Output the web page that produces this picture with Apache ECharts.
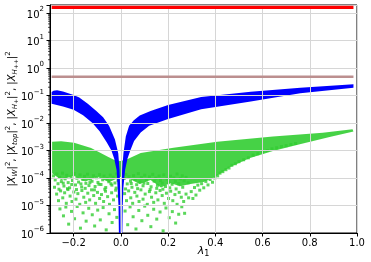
<!DOCTYPE html>
<html><head><meta charset="utf-8">
<script src="https://cdn.jsdelivr.net/npm/echarts@6/dist/echarts.min.js"></script>
<style>html,body{margin:0;padding:0;background:#fff}#c{width:371px;height:262px}</style>
</head><body><div id="c"></div>
<script>
// ---- axis ticks ----
const xTickVals = [-0.2, 0.0, 0.2, 0.4, 0.6, 0.8, 1.0];
const yMinorTicks = [];
[1e-6,1e-5,1e-4,1e-3,1e-2,1e-1,1,10,100].forEach(d=>{[2,3,4,5,6,7,8,9].forEach(m=>{if(m*d<195) yMinorTicks.push(+(m*d).toPrecision(3));});});

// ---- red band |X_W|^2 ----
const redX = [-0.293, 0.985];
const redY = [160, 160];
// ---- rosy-brown band |X_top|^2 ----
const brownX = [-0.293, 0.985];
const brownY = [0.48, 0.48];

// ---- blue band |X_H+|^2 : edges of the dense point band ----
const blueLeftTop = [[-0.293,0.135],[-0.285,0.148],[-0.27,0.155],[-0.245,0.14],[-0.2,0.105],[-0.176,0.085],[-0.14,0.05],[-0.105,0.028],[-0.075,0.016],[-0.05,0.0079],[-0.025,0.0025],[-0.011,7.9e-4],[-0.0055,1.95e-4],[-0.003,4.8e-5],[-0.0015,6.3e-6],[-0.001,6.3e-7]];
const blueLeftBottom = [[-0.293,0.05],[-0.245,0.04],[-0.2,0.03],[-0.16,0.019],[-0.12,0.01],[-0.09,0.005],[-0.06,0.002],[-0.04,0.001],[-0.028,5e-4],[-0.018,1.95e-4],[-0.014,4.8e-5],[-0.01,1e-5],[-0.008,6.3e-7]];
const blueRightTop = [[0.001,6.3e-7],[0.0015,6.3e-6],[0.003,4.8e-5],[0.0055,1.95e-4],[0.011,7.9e-4],[0.021,0.0032],[0.035,0.0079],[0.055,0.0126],[0.08,0.0186],[0.126,0.0275],[0.2,0.045],[0.34,0.089],[0.55,0.138],[0.76,0.19],[0.985,0.257]];
const blueRightBottom = [[0.006,6.3e-7],[0.008,1e-5],[0.011,4.8e-5],[0.018,1.95e-4],[0.028,5e-4],[0.04,0.001],[0.056,0.0022],[0.084,0.0045],[0.12,0.0079],[0.2,0.014],[0.34,0.0316],[0.55,0.06],[0.76,0.12],[0.985,0.19]];

// ---- green cloud |X_H++|^2 : dense core edges ----
const greenCoreTop = [[-0.291,2.1e-3],[-0.253,2.15e-3],[-0.198,1.92e-3],[-0.126,1.23e-3],[-0.055,5.96e-4],[-0.021,4.27e-4],[0.0,4.17e-4],[0.029,4.9e-4],[0.084,8.1e-4],[0.223,1.26e-3],[0.408,2.1e-3],[0.644,3.2e-3],[0.855,4.4e-3],[0.981,5.9e-3]];
const greenCoreBottom = [[0.985,4.9e-3],[0.884,3.1e-3],[0.758,1.7e-3],[0.644,9.6e-4],[0.547,5.3e-4],[0.463,2.5e-4],[0.4,1.1e-4],[0.35,7.1e-5],[0.295,6e-5],[0.25,5e-5],[0.21,6.6e-5],[0.17,4.5e-5],[0.126,8.5e-5],[0.08,6e-5],[0.04,9e-5],[0.0,1.1e-4],[-0.05,7e-5],[-0.1,1.1e-4],[-0.15,7.5e-5],[-0.2,1.2e-4],[-0.253,8.5e-5],[-0.291,1.5e-4]];
// ---- green cloud : sparse points ----
const greenSparse = [
[-0.285,1.2e-4],[-0.278,8.5e-5],[-0.271,1.4e-4],[-0.266,6.2e-5],[-0.259,1.05e-4],[-0.252,7.4e-5],[-0.247,1.5e-4],[-0.241,5.1e-5],[-0.236,9.3e-5],[-0.229,1.25e-4],[-0.223,6.8e-5],[-0.217,4.4e-5],[-0.211,1.1e-4],[-0.205,8.1e-5],[-0.198,1.45e-4],[-0.192,5.6e-5],[-0.186,9.8e-5],[-0.179,7.1e-5],[-0.173,1.3e-4],[-0.166,4.7e-5],[-0.161,8.8e-5],[-0.154,1.15e-4],[-0.148,6.4e-5],[-0.141,1.38e-4],[-0.135,5.3e-5],[-0.129,9.1e-5],[-0.122,7.6e-5],[-0.116,1.2e-4],[-0.109,4.9e-5],[-0.103,1.02e-4],[-0.097,6.9e-5],[-0.09,1.33e-4],[-0.084,5.8e-5],[-0.077,8.6e-5],[-0.071,1.18e-4],[-0.064,4.5e-5],[-0.058,9.5e-5],[-0.051,7.3e-5],[-0.045,1.28e-4],[-0.038,5.5e-5],[-0.032,1.07e-4],[-0.025,6.6e-5],[-0.018,1.4e-4],[-0.012,8.2e-5],[0.014,9.6e-5],[0.021,1.35e-4],[0.027,6.1e-5],[0.034,1.12e-4],[0.041,7.8e-5],[0.047,4.6e-5],[0.054,1.22e-4],[0.061,8.9e-5],[0.067,5.7e-5],[0.074,1.44e-4],[0.081,7.2e-5],[0.087,1.03e-4],[0.094,5.2e-5],[0.101,1.26e-4],[0.108,8.4e-5],[0.114,6.3e-5],[0.121,1.09e-4],[0.128,4.8e-5],[0.135,1.36e-4],[0.141,7.7e-5],[0.148,9.9e-5],[0.155,5.4e-5],[0.162,1.19e-4],[0.168,8.1e-5],[0.175,6.5e-5],[0.182,1.3e-4],[0.189,4.9e-5],[0.196,9.2e-5],[0.203,7.0e-5],[0.21,1.16e-4],[0.217,5.9e-5],[0.224,1.01e-4],[0.231,7.5e-5],[0.238,1.4e-4],[0.245,6.2e-5],[0.252,9.4e-5],[0.26,1.2e-4],[0.268,7.9e-5],[0.276,1.05e-4],[0.285,6.7e-5],
[-0.281,4.6e-5],[-0.262,3.9e-5],[-0.244,6.5e-5],[-0.226,4.1e-5],[-0.208,5.8e-5],[-0.188,3.8e-5],[-0.169,6.1e-5],[-0.151,4.2e-5],[-0.131,6.8e-5],[-0.112,3.7e-5],[-0.093,5.9e-5],[-0.068,3.9e-5],[-0.042,6.2e-5],[-0.02,4.3e-5],[0.02,4.0e-5],[0.044,6.3e-5],[0.071,4.1e-5],[0.098,6.5e-5],[0.124,3.8e-5],[0.152,4.2e-5],[0.178,3.9e-5],[0.207,4.4e-5],[0.234,4.0e-5],[0.262,4.6e-5],
[0.298,3.2e-5],[0.305,1.8e-5],[0.312,4.5e-5],[0.318,2.4e-5],[0.326,5.5e-5],[0.334,3.6e-5],[0.342,6.2e-5],[0.351,4.4e-5],[0.36,7.5e-5],[0.369,5.6e-5],[0.378,8.8e-5],[0.388,7e-5],[0.398,1.0e-4],[0.41,1.2e-4],[0.42,1.5e-4],[0.432,1.7e-4],[0.445,2.0e-4],[0.458,2.3e-4],[0.47,2.9e-4],[0.485,3.3e-4],[0.5,3.9e-4],[0.52,4.6e-4],[0.54,5.4e-4],[0.56,6.8e-4],[0.58,7.6e-4],[0.6,9.0e-4],[0.62,1.0e-3],[0.64,1.15e-3],[0.66,1.25e-3],[0.68,1.4e-3],[0.7,1.5e-3],[0.72,1.65e-3],[0.74,1.8e-3],
[-0.272,2.6e-5],[-0.264,1.5e-5],[-0.255,3.4e-5],[-0.246,1.9e-5],[-0.238,2.9e-5],[-0.231,1.2e-5],[-0.224,3.8e-5],[-0.215,2.2e-5],[-0.207,1.4e-5],[-0.199,3.1e-5],[-0.19,1.7e-5],[-0.182,2.7e-5],[-0.174,1.1e-5],[-0.165,3.5e-5],[-0.157,2.0e-5],[-0.149,1.3e-5],[-0.14,2.8e-5],[-0.132,1.6e-5],[-0.124,3.7e-5],[-0.115,2.3e-5],[-0.107,1.2e-5],[-0.099,3.0e-5],[-0.09,1.8e-5],[-0.082,2.5e-5],[-0.073,1.4e-5],[-0.065,3.3e-5],[-0.056,2.1e-5],[-0.048,1.1e-5],[-0.039,2.9e-5],[-0.031,1.6e-5],[-0.022,3.6e-5],[-0.014,2.2e-5],[0.016,2.7e-5],[0.024,1.5e-5],[0.033,3.4e-5],[0.042,1.9e-5],[0.05,1.2e-5],[0.059,3.0e-5],[0.068,2.2e-5],[0.077,1.4e-5],[0.085,3.7e-5],[0.094,1.7e-5],[0.103,2.6e-5],[0.112,1.1e-5],[0.121,3.2e-5],[0.13,2.0e-5],[0.139,1.3e-5],[0.148,2.9e-5],[0.157,1.6e-5],[0.166,3.5e-5],[0.175,2.3e-5],[0.184,1.2e-5],[0.193,2.8e-5],[0.202,1.8e-5],[0.211,3.3e-5],[0.22,1.5e-5],[0.229,2.5e-5],[0.238,1.1e-5],[0.247,3.0e-5],[0.256,2.0e-5],[0.266,1.4e-5],[0.276,2.6e-5],[0.287,1.9e-5],
[-0.258,7.5e-6],[-0.243,4.2e-6],[-0.233,8.8e-6],[-0.221,2.1e-6],[-0.209,6.1e-6],[-0.196,3.3e-6],[-0.185,9.2e-6],[-0.171,1.5e-6],[-0.16,5.4e-6],[-0.147,2.7e-6],[-0.136,7.9e-6],[-0.121,4.6e-6],[-0.111,1.8e-6],[-0.098,6.8e-6],[-0.087,3.0e-6],[-0.075,8.4e-6],[-0.062,1.3e-6],[-0.05,5.0e-6],[-0.037,2.4e-6],[-0.027,7.1e-6],[-0.017,3.7e-6],[0.018,6.3e-6],[0.029,2.0e-6],[0.039,8.9e-6],[0.052,3.9e-6],[0.064,1.4e-6],[0.076,6.6e-6],[0.089,2.8e-6],[0.101,9.5e-6],[0.114,4.4e-6],[0.127,1.7e-6],[0.139,7.3e-6],[0.152,3.2e-6],[0.166,5.8e-6],[0.179,1.2e-6],[0.191,8.1e-6],[0.205,3.6e-6],[0.218,6.0e-6],[0.232,2.3e-6],[0.245,4.8e-6],[0.258,9.0e-6],[0.27,5.2e-6]
];

const X_MIN = -0.3, X_MAX = 1.0, Y_MIN = 1e-6, Y_MAX = 195;
const FONT = 'DejaVu Sans';

function polygonSeries(name, pts, color, z, opacity){
  return {
    name: name, type: 'custom', z: z, clip: true, silent: true,
    data: [pts[0]],
    renderItem: function(params, api){
      return {type:'polygon', shape:{points: pts.map(p=>api.coord(p))},
              style:{fill: color, opacity: opacity == null ? 1 : opacity}};
    }
  };
}

const chart = echarts.init(document.getElementById('c'), null, {renderer:'canvas'});
const option = {
  animation: false,
  textStyle: {fontFamily: FONT},
  grid: {left: 50, right: 14, top: 5, bottom: 29, show: true, borderColor: '#000', borderWidth: 1,
         backgroundColor: 'transparent', containLabel: false, outerBoundsMode: 'none'},
  xAxis: {
    type: 'value', min: X_MIN, max: X_MAX, splitNumber: 6, z: 3, nameMoveOverlap: false,
    axisLine: {show: true, onZero: false, lineStyle: {color: '#000', width: 1}},
    axisTick: {show: true, length: 3.5, lineStyle: {color: '#000'}, customValues: xTickVals},
    axisLabel: {color: '#000', fontSize: 10, margin: 5, fontFamily: FONT, customValues: xTickVals,
      formatter: v => Math.abs(v - X_MIN) < 1e-9 ? '' : v.toFixed(1).replace('-', '\u2212')},
    splitLine: {show: true, lineStyle: {color: '#d6d6d6', width: 1}},
    name: '{i|\u03bb}{s|1}', nameLocation: 'middle', nameGap: 11,
    nameTextStyle: {color: '#000', rich: {
      i: {fontSize: 11, fontStyle: 'italic', fontFamily: FONT, color: '#000', lineHeight: 14, verticalAlign: 'middle'},
      s: {fontSize: 8, fontFamily: FONT, color: '#000', lineHeight: 9, verticalAlign: 'bottom'}
    }}
  },
  yAxis: {
    type: 'log', logBase: 10, min: Y_MIN, max: Y_MAX, z: 3, nameMoveOverlap: false,
    axisLine: {show: true, onZero: false, lineStyle: {color: '#000', width: 1}},
    axisTick: {show: true, length: 3.5, lineStyle: {color: '#000'}},
    splitLine: {show: true, lineStyle: {color: '#d6d6d6', width: 1}},
    axisLabel: {color: '#000', margin: 6, fontFamily: FONT,
      formatter: function(v){
        const e = Math.log10(v), r = Math.round(e);
        if (Math.abs(e - r) > 1e-6) return '';
        return '{b|10}{s|' + (r < 0 ? '\u2212' + (-r) : r) + '}';
      },
      rich: {
        b: {fontSize: 10, fontFamily: FONT, color: '#000', lineHeight: 14, verticalAlign: 'bottom'},
        s: {fontSize: 7, fontFamily: FONT, color: '#000', lineHeight: 9, verticalAlign: 'top'}
      }
    },
    name: '|{i|X}{sb|W}|{sp|2}, |{i|X}{sb|top}|{sp|2}, |{i|X}{sb|H}{ss|+}|{sp|2}, |{i|X}{sb|H}{ss|++}|{sp|2}',
    nameLocation: 'middle', nameGap: 31, nameRotate: 90,
    nameTextStyle: {color: '#000', fontSize: 10, fontFamily: FONT, lineHeight: 14, rich: {
      i: {fontSize: 10, fontStyle: 'italic', fontFamily: FONT, color: '#000', lineHeight: 14, verticalAlign: 'middle'},
      sb: {fontSize: 7, fontStyle: 'italic', fontFamily: FONT, color: '#000', lineHeight: 8, verticalAlign: 'bottom'},
      sp: {fontSize: 7, fontFamily: FONT, color: '#000', lineHeight: 8, verticalAlign: 'top'},
      ss: {fontSize: 6, fontFamily: FONT, color: '#000', lineHeight: 11, verticalAlign: 'bottom'}
    }}
  },
  series: [
    polygonSeries('green core', greenCoreTop.concat(greenCoreBottom), '#32cd32', 1, 0.9),
    {name: 'green', type: 'scatter', z: 1, symbol: 'rect', symbolSize: 3, silent: true,
     itemStyle: {color: '#32cd32'}, data: greenSparse},
    polygonSeries('blue left', blueLeftTop.concat(blueLeftBottom.slice().reverse()), '#0000ff', 2),
    polygonSeries('blue right', blueRightTop.concat(blueRightBottom.slice().reverse()), '#0000ff', 2),
    {name: 'top', type: 'line', z: 4, symbol: 'none', silent: true,
     lineStyle: {color: '#bc8f8f', width: 2.7}, data: brownX.map((x,i)=>[x, brownY[i]])},
    {name: 'W', type: 'line', z: 4, symbol: 'none', silent: true,
     lineStyle: {color: '#ff0000', width: 3.4}, data: redX.map((x,i)=>[x, redY[i]])},
    {name: 'minor ticks', type: 'custom', z: 5, clip: false, silent: true,
     data: yMinorTicks.map(v=>[X_MIN, v]),
     renderItem: function(params, api){
       const p = api.coord([X_MIN, api.value(1)]);
       return {type:'line', shape:{x1:p[0]-2, y1:p[1], x2:p[0], y2:p[1]}, style:{stroke:'#000', lineWidth:0.7}};
     }}
  ]
};
chart.setOption(option);
</script></body></html>
